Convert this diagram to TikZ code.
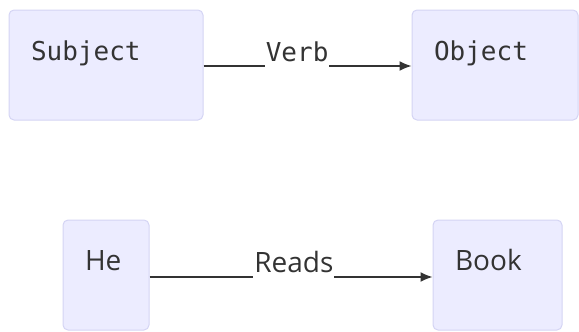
\documentclass[tikz,border=0pt]{standalone}
\usepackage{fontspec}
\setmonofont{DejaVu Sans Mono}
\setsansfont{Open Sans}
\usepackage{tikz}
\usetikzlibrary{arrows.meta,positioning,calc}
\definecolor{boxfill}{HTML}{ECECFF}
\definecolor{boxline}{HTML}{D4D4F4}
\definecolor{inkgray}{HTML}{333333}
\newcommand{\wordbox}[5][]{\node[wbox,minimum width=#3,#1] (#2) {};
  \node[anchor=base west,text=inkgray,#4] (#2-txt) at ([shift={(19pt,-51pt)}]#2.north west) {#5};}

\begin{document}
\begin{tikzpicture}[x=1pt,y=-1pt,>=Latex,
  wbox/.style={draw=boxline,fill=boxfill,rounded corners=5pt,line width=1pt,minimum height=110pt,inner sep=0pt},
  monotxt/.style={font=\ttfamily\fontsize{26}{30}\selectfont},
  sanstxt/.style={font=\sffamily\fontsize{28}{32}\selectfont},
  verb/.style={fill=white,inner xsep=1pt,inner ysep=0pt,text depth=8pt,anchor=base,yshift=5pt,text=inkgray},
  link/.style={-{Latex[length=12pt,width=10pt]},line width=1.4pt,draw=inkgray}]
\useasboundingbox (0,0) rectangle (579,332);
% top row: sentence pattern
\wordbox[at={(106,65)}]{subj}{194pt}{monotxt}{Subject}
\wordbox[at={(495,65)}]{obj}{166pt}{monotxt}{Object}
% bottom row: example sentence
\wordbox[at={(106,275)}]{he}{86pt}{sanstxt}{He}
\wordbox[at={(497.5,275)}]{book}{129pt}{sanstxt}{Book}
\draw[link] ($(subj.east)+(0,1)$) -- node[verb,monotxt,pos=0.45] (verblbl) {Verb} ($(obj.west)+(0,1)$);
\draw[link] ($(he.east)+(0,2)$) -- node[verb,sanstxt,pos=0.51] (readslbl) {Reads} ($(book.west)+(0,2)$);
\end{tikzpicture}
\end{document}
